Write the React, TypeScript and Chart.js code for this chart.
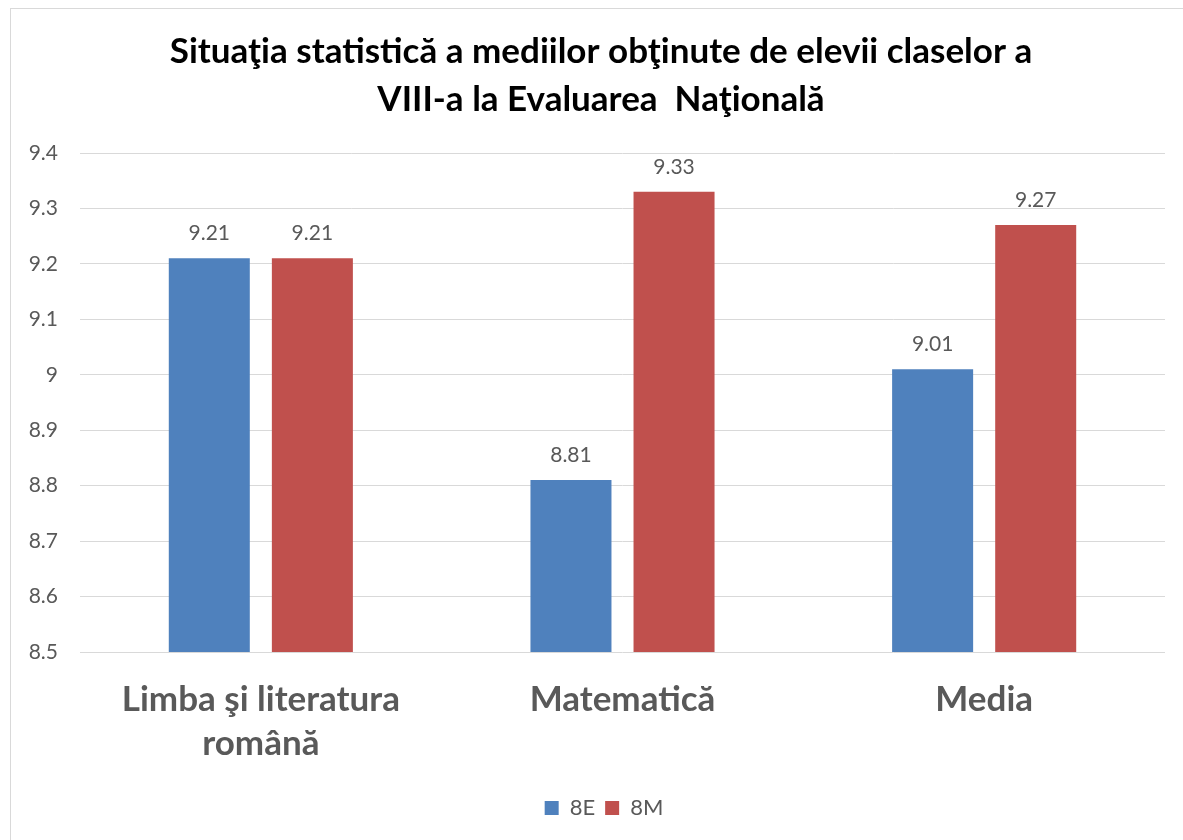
import React, { useEffect, useRef } from "react";
import { Chart, registerables } from "chart.js";

Chart.register(...registerables);

const categories: (string | string[])[] = [["Limba şi literatura", "română"], "Matematică", "Media"];
const series8E: number[] = [9.21, 8.81, 9.01];
const series8M: number[] = [9.21, 9.33, 9.27];
const seriesNames: string[] = ["8E", "8M"];
const titleLines: string[] = [
  "Situaţia statistică a mediilor obţinute de elevii claselor a",
  "VIII-a la Evaluarea  Naţională",
];
const yMin = 8.5;
const yMax = 9.4;
const yStep = 0.1;

const FONT = "Lato, 'Open Sans', sans-serif";
const GRAY = "#595959";

const valueLabels = {
  id: "valueLabels",
  afterDatasetsDraw(chart: any) {
    const ctx = chart.ctx;
    ctx.save();
    ctx.font = `21px ${FONT}`;
    ctx.fillStyle = GRAY;
    ctx.textAlign = "center";
    ctx.textBaseline = "middle";
    chart.data.datasets.forEach((ds: any, i: number) => {
      const meta = chart.getDatasetMeta(i);
      meta.data.forEach((el: any, j: number) => {
        ctx.fillText(String(ds.data[j]), el.x, el.y - 25);
      });
    });
    ctx.restore();
  },
};

// Shift the centring boxes of title and legend slightly right, like the original
const centreShift = {
  id: "centreShift",
  afterLayout(chart: any) {
    if (chart.titleBlock) chart.titleBlock.left += 26;
    if (chart.legend) chart.legend.left += 32;
  },
};

export default function App() {
  const ref = useRef<HTMLCanvasElement>(null);
  useEffect(() => {
    if (!ref.current) return;
    const chart = new Chart(ref.current, {
      type: "bar",
      data: {
        labels: categories,
        datasets: [
          {
            label: seriesNames[0],
            data: series8E,
            backgroundColor: "#4F81BD",
            barPercentage: 0.786,
            categoryPercentage: 0.57,
          },
          {
            label: seriesNames[1],
            data: series8M,
            backgroundColor: "#C0504D",
            barPercentage: 0.786,
            categoryPercentage: 0.57,
          },
        ],
      },
      options: {
        responsive: false,
        animation: false,
        layout: { padding: { left: 0, right: 18, top: 0, bottom: 11 } },
        plugins: {
          title: {
            display: true,
            text: titleLines,
            color: "#000000",
            font: { family: FONT, size: 35, weight: "bold", lineHeight: 48 / 35 },
            padding: { top: 19, bottom: 29 },
          },
          legend: {
            position: "bottom",
            labels: {
              color: GRAY,
              font: { family: FONT, size: 22 },
              boxWidth: 14,
              boxHeight: 14,
              padding: 10,
            },
          },
          tooltip: { enabled: false },
        },
        scales: {
          x: {
            grid: { display: false, drawTicks: false },
            border: { display: false },
            ticks: {
              color: GRAY,
              font: { family: FONT, size: 35, weight: "bold", lineHeight: 44 / 35 },
              padding: 25.5,
              maxRotation: 0,
            },
            afterFit(scale: any) {
              scale.height = 135;
            },
          },
          y: {
            min: yMin,
            max: yMax,
            grid: { color: "#d9d9d9", lineWidth: 1, drawTicks: false },
            border: { display: false },
            ticks: {
              stepSize: yStep,
              color: GRAY,
              font: { family: FONT, size: 21 },
              padding: 22,
              callback: (v: any) => String(Math.round(Number(v) * 10) / 10),
            },
            afterFit(scale: any) {
              scale.width = 69;
            },
          },
        },
      },
      plugins: [valueLabels, centreShift],
    });
    return () => chart.destroy();
  }, []);

  return (
    <div
      style={{
        position: "absolute",
        left: 10,
        top: 8,
        width: 1173,
        height: 832,
        boxSizing: "border-box",
        borderLeft: "1px solid #d9d9d9",
        borderTop: "1px solid #d9d9d9",
        background: "#fff",
        overflow: "hidden",
      }}
    >
      <canvas ref={ref} width={1172} height={831} style={{ display: "block" }} />
    </div>
  );
}
